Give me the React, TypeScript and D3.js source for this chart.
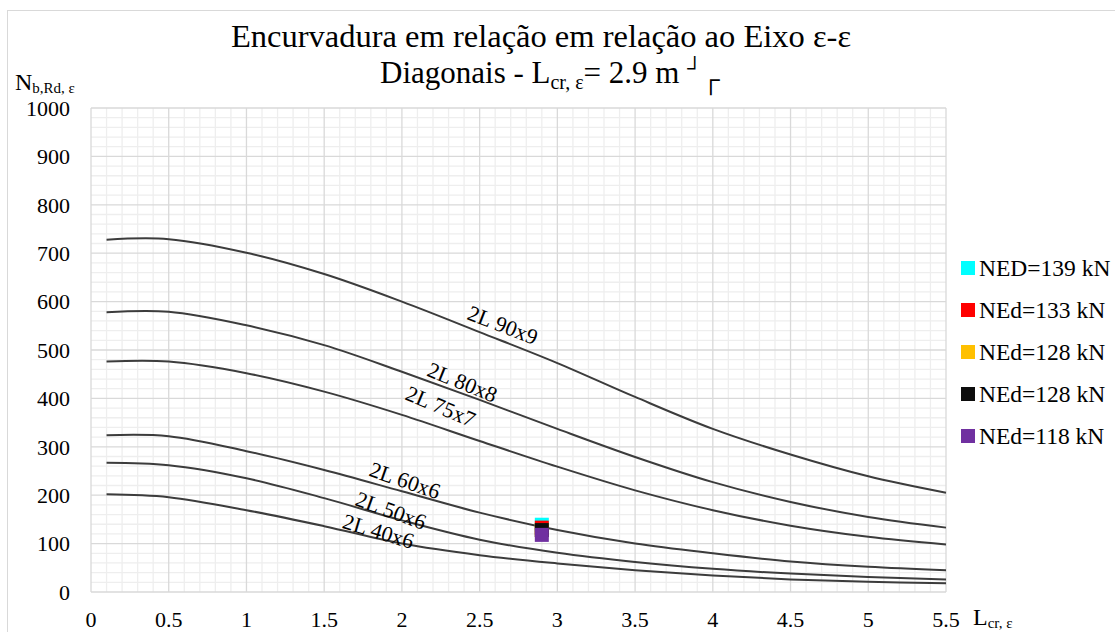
import React, { useEffect, useRef } from 'react'
import * as d3 from 'd3'

// buckling lengths L_cr (m)
const lengths = [0.1, 0.5, 1, 1.5, 2, 2.5, 3, 3.5, 4, 4.5, 5, 5.5]

// N_b,Rd (kN) per profile
const profiles = ['2L 90x9', '2L 80x8', '2L 75x7', '2L 60x6', '2L 50x6', '2L 40x6']
const n90x9 = [728, 729, 701, 657, 600, 537, 473, 403, 337, 284, 239, 205]
const n80x8 = [578, 579, 551, 510, 455, 397, 337, 279, 227, 186, 155, 133]
const n75x7 = [476, 476, 452, 414, 366, 312, 259, 210, 169, 137, 114, 98]
const n60x6 = [324, 322, 291, 252, 208, 164, 128, 100, 80, 63, 52, 45]
const n50x6 = [267, 262, 235, 194, 148, 108, 81, 62, 48, 38, 31, 26]
const n40x6 = [202, 196, 169, 136, 100, 76, 59, 45, 34, 26, 21, 18]
const curves = [n90x9, n80x8, n75x7, n60x6, n50x6, n40x6]

// where the profile names sit on the curves (m, kN, degrees)
const labelX = [2.65, 2.39, 2.25, 2.02, 1.93, 1.85]
const labelY = [552, 434, 384, 231, 169, 126]
const labelAngle = [21, 22, 23, 19, 20, 17]

// design loads at L_cr = 2.9 m
const loadLength = 2.9
const loadNames = ['NED=139 kN', 'NEd=133 kN', 'NEd=128 kN', 'NEd=128 kN', 'NEd=118 kN']
const loadValues = [139, 133, 128, 128, 118]
const loadColors = ['#00ffff', '#ff0000', '#ffc000', '#0d0d0d', '#7030a0']

const xTicks = [0, 0.5, 1, 1.5, 2, 2.5, 3, 3.5, 4, 4.5, 5, 5.5]
const yTicks = [0, 100, 200, 300, 400, 500, 600, 700, 800, 900, 1000]

const FONT = 'Liberation Serif'

export default function App() {
  const svgRef = useRef<SVGSVGElement>(null)
  const width = 1115
  const height = 632

  useEffect(() => {
    const svg = d3.select(svgRef.current)
    svg.selectAll('*').remove()

    const margin = { top: 108, right: 169, bottom: 40, left: 91 }
    const innerWidth = width - margin.left - margin.right
    const innerHeight = height - margin.top - margin.bottom

    const x = d3.scaleLinear().domain([0, 5.5]).range([0, innerWidth])
    const y = d3.scaleLinear().domain([0, 1000]).range([innerHeight, 0])

    // chart frame
    svg.append('rect')
      .attr('x', 7.5).attr('y', 10.5)
      .attr('width', 1200).attr('height', 700)
      .attr('fill', 'white')
      .attr('stroke', '#d9d9d9')

    const g = svg.append('g')
      .attr('transform', `translate(${margin.left},${margin.top})`)

    // minor grid
    const xMinor = d3.range(0, 5.5001, 0.1).filter((_, i) => i % 5 !== 0)
    const yMinor = d3.range(0, 1000.01, 20).filter((_, i) => i % 5 !== 0)
    g.selectAll('.vminor').data(xMinor).enter().append('line')
      .attr('x1', d => x(d)).attr('x2', d => x(d))
      .attr('y1', 0).attr('y2', innerHeight)
      .attr('stroke', '#eeeeee').attr('stroke-width', 1.3)
    g.selectAll('.hminor').data(yMinor).enter().append('line')
      .attr('x1', 0).attr('x2', innerWidth)
      .attr('y1', d => y(d)).attr('y2', d => y(d))
      .attr('stroke', '#eeeeee').attr('stroke-width', 1.3)

    // major grid
    g.selectAll('.vmajor').data(xTicks).enter().append('line')
      .attr('x1', d => x(d)).attr('x2', d => x(d))
      .attr('y1', 0).attr('y2', innerHeight)
      .attr('stroke', '#d9d9d9').attr('stroke-width', 1.3)
    g.selectAll('.hmajor').data(yTicks).enter().append('line')
      .attr('x1', 0).attr('x2', innerWidth)
      .attr('y1', d => y(d)).attr('y2', d => y(d))
      .attr('stroke', '#d9d9d9').attr('stroke-width', 1.3)

    // tick labels
    g.selectAll('.ylab').data(yTicks).enter().append('text')
      .attr('x', -21).attr('y', d => y(d))
      .attr('dy', '0.35em')
      .attr('text-anchor', 'end')
      .attr('font-size', 22)
      .text(d => d)
    g.selectAll('.xlab').data(xTicks).enter().append('text')
      .attr('x', d => x(d)).attr('y', innerHeight + 35)
      .attr('text-anchor', 'middle')
      .attr('font-size', 22)
      .text(d => d)

    // curves
    const line = d3.line<number>()
      .x((_, i) => x(lengths[i]))
      .y(d => y(d))
      .curve(d3.curveCatmullRom.alpha(0.5))

    g.selectAll('.curve').data(curves).enter().append('path')
      .attr('d', d => line(d))
      .attr('fill', 'none')
      .attr('stroke', '#3c3c3c')
      .attr('stroke-width', 2)

    g.selectAll('.curve-label').data(profiles).enter().append('text')
      .attr('transform', (_, i) => `translate(${x(labelX[i])},${y(labelY[i])}) rotate(${labelAngle[i]})`)
      .attr('dy', '0.35em')
      .attr('text-anchor', 'middle')
      .attr('font-size', 22)
      .text(d => d)

    // load points
    g.selectAll('.load').data(loadValues).enter().append('rect')
      .attr('x', x(loadLength) - 7)
      .attr('y', d => y(d) - 7)
      .attr('width', 14).attr('height', 14)
      .attr('fill', (_, i) => loadColors[i])

    // legend
    const legend = svg.append('g').attr('transform', 'translate(961, 268)')
    legend.selectAll('.lg-box').data(loadNames).enter().append('rect')
      .attr('x', 0).attr('y', (_, i) => i * 42 - 7)
      .attr('width', 14).attr('height', 14)
      .attr('fill', (_, i) => loadColors[i])
    legend.selectAll('.lg-text').data(loadNames).enter().append('text')
      .attr('x', 18).attr('y', (_, i) => i * 42)
      .attr('dy', '0.35em')
      .attr('font-size', 23.5)
      .text(d => d)

    // title
    svg.append('text')
      .attr('x', 541).attr('y', 47)
      .attr('font-size', 32.5)
      .attr('text-anchor', 'middle')
      .text('Encurvadura em relação em relação ao Eixo ε-ε')
    const t2 = svg.append('text')
      .attr('x', 380).attr('y', 83)
      .attr('font-size', 31)
    t2.append('tspan').text('Diagonais - L')
    t2.append('tspan').attr('dy', 6).attr('font-size', 20).text('cr, ε')
    t2.append('tspan').attr('dy', -6).text('= 2.9 m ')
    t2.append('tspan').attr('dy', -8).attr('font-size', 21).text('┘')
    t2.append('tspan').attr('dy', 13).attr('font-size', 25).text('┌')

    // axis titles
    const yt = svg.append('text').attr('x', 15).attr('y', 90)
      .attr('font-size', 24)
    yt.append('tspan').text('N')
    yt.append('tspan').attr('dy', 3).attr('font-size', 15).text('b,Rd, ε')

    const xt = svg.append('text').attr('x', 973).attr('y', 625)
      .attr('font-size', 24)
    xt.append('tspan').text('L')
    xt.append('tspan').attr('dy', 3).attr('font-size', 15).text('cr, ε')
  }, [])

  return (
    <svg
      ref={svgRef}
      width={width}
      height={height}
      fontFamily={FONT}
      style={{ position: 'absolute', left: 0, top: 0, background: 'white' }}
    />
  )
}
